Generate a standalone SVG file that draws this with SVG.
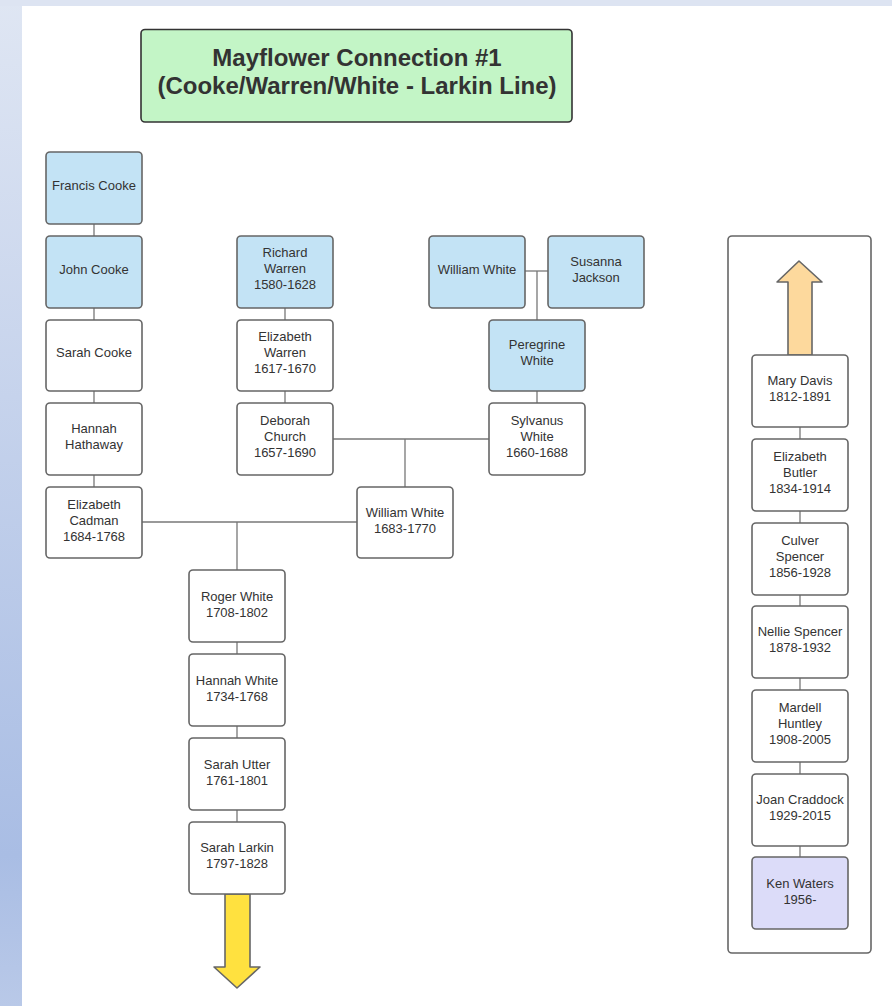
<svg xmlns="http://www.w3.org/2000/svg" width="892" height="1006" viewBox="0 0 892 1006">
<defs>
<linearGradient id="bg" x1="0" y1="0" x2="0" y2="1">
<stop offset="0" stop-color="#dfe6f3"/>
<stop offset="0.85" stop-color="#a9bde4"/>
<stop offset="1" stop-color="#b9c9e8"/>
</linearGradient>
</defs>
<style>
.n rect{stroke:#666;stroke-width:1.6}
.w{fill:#fff}.b{fill:#c3e3f5}.p{fill:#dcdcf9}
text{font-family:"Liberation Sans",Arial,sans-serif;font-size:13px;fill:#333;text-anchor:middle}
.t{font-size:24px;font-weight:bold}
#connectors line{stroke:#777;stroke-width:1.3}
</style>
<rect x="0" y="0" width="892" height="1006" fill="url(#bg)"/>
<rect x="0" y="0" width="892" height="6" fill="#dde4f2"/>
<rect x="22" y="6" width="870" height="1000" fill="#fff"/>

<g id="title">
<rect x="141" y="29.5" width="431" height="92.5" rx="4" fill="#c3f5c6" stroke="#333" stroke-width="1.6"/>
<text class="t" x="357" y="66">Mayflower Connection #1</text>
<text class="t" x="357" y="94">(Cooke/Warren/White - Larkin Line)</text>
</g>

<g id="container"><rect x="728" y="236" width="143" height="717" rx="4" fill="#fff" stroke="#666" stroke-width="1.6"/></g>

<g id="connectors">
<line x1="94" y1="224" x2="94" y2="236"/>
<line x1="94" y1="308" x2="94" y2="320"/>
<line x1="94" y1="391" x2="94" y2="403"/>
<line x1="94" y1="475" x2="94" y2="487"/>
<line x1="285" y1="308" x2="285" y2="320"/>
<line x1="285" y1="391" x2="285" y2="403"/>
<line x1="525" y1="271" x2="548" y2="271"/>
<line x1="537" y1="271" x2="537" y2="320"/>
<line x1="537" y1="391" x2="537" y2="403"/>
<line x1="333" y1="439" x2="489" y2="439"/>
<line x1="405" y1="439" x2="405" y2="487"/>
<line x1="142" y1="522" x2="357" y2="522"/>
<line x1="237" y1="522" x2="237" y2="570"/>
<line x1="237" y1="642" x2="237" y2="654"/>
<line x1="237" y1="726" x2="237" y2="738"/>
<line x1="237" y1="810" x2="237" y2="822"/>
<line x1="800" y1="427" x2="800" y2="439"/>
<line x1="800" y1="511" x2="800" y2="523"/>
<line x1="800" y1="595" x2="800" y2="606"/>
<line x1="800" y1="678" x2="800" y2="690"/>
<line x1="800" y1="762" x2="800" y2="774"/>
<line x1="800" y1="846" x2="800" y2="857"/>
</g>

<g id="arrow-up"><path d="M788 355 V282 H777 L799 261 L822 282 H812 V355 Z" fill="#fdd99d" stroke="#666" stroke-width="1.6" stroke-linejoin="round"/></g>
<g id="arrow-down"><path d="M225 894 V967 H214 L237 988 L260 967 H250 V894 Z" fill="#ffe13f" stroke="#666" stroke-width="1.6" stroke-linejoin="round"/></g>

<g id="francis-cooke" class="n"><rect class="b" x="46" y="152" width="96" height="72" rx="4"/><text x="94" y="190">Francis Cooke</text></g>
<g id="john-cooke" class="n"><rect class="b" x="46" y="236" width="96" height="72" rx="4"/><text x="94" y="274">John Cooke</text></g>
<g id="sarah-cooke" class="n"><rect class="w" x="46" y="320" width="96" height="71" rx="4"/><text x="94" y="357">Sarah Cooke</text></g>
<g id="hannah-hathaway" class="n"><rect class="w" x="46" y="403" width="96" height="72" rx="4"/><text x="94" y="433">Hannah</text><text x="94" y="449">Hathaway</text></g>
<g id="elizabeth-cadman" class="n"><rect class="w" x="46" y="487" width="96" height="71" rx="4"/><text x="94" y="509">Elizabeth</text><text x="94" y="525">Cadman</text><text x="94" y="541">1684-1768</text></g>

<g id="richard-warren" class="n"><rect class="b" x="237" y="236" width="96" height="72" rx="4"/><text x="285" y="257">Richard</text><text x="285" y="273">Warren</text><text x="285" y="289">1580-1628</text></g>
<g id="elizabeth-warren" class="n"><rect class="w" x="237" y="320" width="96" height="71" rx="4"/><text x="285" y="341">Elizabeth</text><text x="285" y="357">Warren</text><text x="285" y="373">1617-1670</text></g>
<g id="deborah-church" class="n"><rect class="w" x="237" y="403" width="96" height="72" rx="4"/><text x="285" y="425">Deborah</text><text x="285" y="441">Church</text><text x="285" y="457">1657-1690</text></g>

<g id="william-white-sr" class="n"><rect class="b" x="429" y="236" width="96" height="72" rx="4"/><text x="477" y="274">William White</text></g>
<g id="susanna-jackson" class="n"><rect class="b" x="548" y="236" width="96" height="72" rx="4"/><text x="596" y="266">Susanna</text><text x="596" y="282">Jackson</text></g>
<g id="peregrine-white" class="n"><rect class="b" x="489" y="320" width="96" height="71" rx="4"/><text x="537" y="349">Peregrine</text><text x="537" y="365">White</text></g>
<g id="sylvanus-white" class="n"><rect class="w" x="489" y="403" width="96" height="72" rx="4"/><text x="537" y="425">Sylvanus</text><text x="537" y="441">White</text><text x="537" y="457">1660-1688</text></g>
<g id="william-white-jr" class="n"><rect class="w" x="357" y="487" width="96" height="71" rx="4"/><text x="405" y="517">William White</text><text x="405" y="533">1683-1770</text></g>

<g id="roger-white" class="n"><rect class="w" x="189" y="570" width="96" height="72" rx="4"/><text x="237" y="601">Roger White</text><text x="237" y="617">1708-1802</text></g>
<g id="hannah-white" class="n"><rect class="w" x="189" y="654" width="96" height="72" rx="4"/><text x="237" y="685">Hannah White</text><text x="237" y="701">1734-1768</text></g>
<g id="sarah-utter" class="n"><rect class="w" x="189" y="738" width="96" height="72" rx="4"/><text x="237" y="769">Sarah Utter</text><text x="237" y="785">1761-1801</text></g>
<g id="sarah-larkin" class="n"><rect class="w" x="189" y="822" width="96" height="72" rx="4"/><text x="237" y="852">Sarah Larkin</text><text x="237" y="868">1797-1828</text></g>

<g id="mary-davis" class="n"><rect class="w" x="752" y="355" width="96" height="72" rx="4"/><text x="800" y="385">Mary Davis</text><text x="800" y="401">1812-1891</text></g>
<g id="elizabeth-butler" class="n"><rect class="w" x="752" y="439" width="96" height="72" rx="4"/><text x="800" y="461">Elizabeth</text><text x="800" y="477">Butler</text><text x="800" y="493">1834-1914</text></g>
<g id="culver-spencer" class="n"><rect class="w" x="752" y="523" width="96" height="72" rx="4"/><text x="800" y="545">Culver</text><text x="800" y="561">Spencer</text><text x="800" y="577">1856-1928</text></g>
<g id="nellie-spencer" class="n"><rect class="w" x="752" y="606" width="96" height="72" rx="4"/><text x="800" y="636">Nellie Spencer</text><text x="800" y="652">1878-1932</text></g>
<g id="mardell-huntley" class="n"><rect class="w" x="752" y="690" width="96" height="72" rx="4"/><text x="800" y="712">Mardell</text><text x="800" y="728">Huntley</text><text x="800" y="744">1908-2005</text></g>
<g id="joan-craddock" class="n"><rect class="w" x="752" y="774" width="96" height="72" rx="4"/><text x="800" y="804">Joan Craddock</text><text x="800" y="820">1929-2015</text></g>
<g id="ken-waters" class="n"><rect class="p" x="752" y="857" width="96" height="72" rx="4"/><text x="800" y="888">Ken Waters</text><text x="800" y="904">1956-</text></g>
</svg>
